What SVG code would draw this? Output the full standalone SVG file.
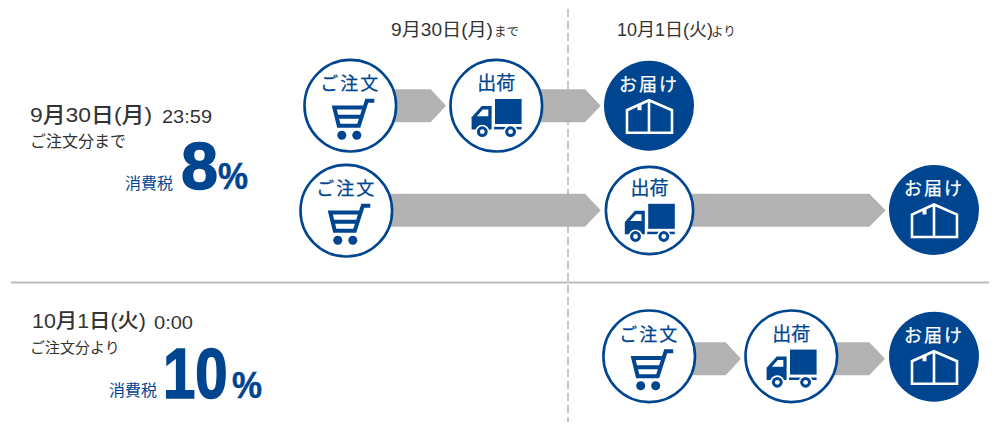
<svg xmlns="http://www.w3.org/2000/svg" xmlns:xlink="http://www.w3.org/1999/xlink" width="1000" height="424" viewBox="0 0 1000 424">
<style>
text{font-family:"Liberation Sans","Noto Sans CJK JP",sans-serif}
.d{fill:#333;font-size:18px}
.t{fill:#333;font-size:18px;font-weight:400}
.s{fill:#333;font-size:16px;font-family:"Noto Sans CJK JP",sans-serif;font-weight:400}
.tax{fill:#00458f;font-size:16px;font-family:"Noto Sans CJK JP",sans-serif;font-weight:400}
.big{fill:#00458f;font-weight:700;stroke:#00458f}
.lab{font-family:"Noto Sans CJK JP",sans-serif;font-size:18px;font-weight:400;text-anchor:middle;fill:#00458f;stroke:#00458f;stroke-width:.25}
.lw{fill:#fff;stroke:#fff}
.w{fill:#fff}
.ring{fill:#fff;stroke:#00458f;stroke-width:2.6}
.solid{fill:#00458f}
.arrow{fill:#b2b2b2}
.ci{fill:none;stroke:#00458f;stroke-width:4}
.bl{fill:#00458f}
.ho{fill:none;stroke:#fff;stroke-width:2.6}
</style>
<defs>
<g id="cart">
<path class="ci" d="M24 -5H16.5L8.5 20H-11.5L-16 1.7H13.5M-14 11H10.5"/>
<circle class="bl" cx="-8.5" cy="29.5" r="4.5"/><circle class="bl" cx="6.5" cy="29.5" r="4.5"/>
</g>
<g id="truck">
<rect class="bl" x="-1.3" y="-6.7" width="26.6" height="25"/>
<path class="bl" d="M-4.7 .3H-14.5L-24.7 11.5V23.7H-4.7Z"/>
<path class="bl" d="M-2.3 21.2H25.3V23.7H-2.3Z"/>
<path class="w" d="M-8 3.8H-13.5L-19.5 10.5H-8Z"/>
<circle class="w" cx="-14" cy="26" r="7"/><circle class="bl" cx="-14" cy="26" r="5.4"/><circle class="w" cx="-14" cy="26" r="2.4"/>
<circle class="w" cx="14.3" cy="26" r="7"/><circle class="bl" cx="14.3" cy="26" r="5.4"/><circle class="w" cx="14.3" cy="26" r="2.4"/>
</g>
<g id="house">
<path class="ho" d="M-22 27V4.5L0 -5.5L23 4.5V27ZM0 -5.5V27"/>
<path class="w" d="M-11.5 -.5L-7.5 -2.2V4.5H-11.5Z"/>
</g>
</defs>

<g id="dividers">
<path d="M568 9V422" stroke="#bbb" stroke-width="1.6" stroke-dasharray="8 4" fill="none"/>
<path d="M11 282.5H989" stroke="#bbb" stroke-width="2" fill="none"/>
</g>

<g id="connectors">
<path class="arrow" d="M394 89.3H430.7L446 105.8L430.7 122.3H394Z"/>
<path class="arrow" d="M540 89.3H585L600.7 105.8L585 122.3H540Z"/>
<path class="arrow" d="M390 193.7H585L600.7 210.2L585 226.7H390Z"/>
<path class="arrow" d="M690 193.7H869.3L885.7 210.2L869.3 226.7H690Z"/>
<path class="arrow" d="M693 342.3H725.7L741 358.8L725.7 375.3H693Z"/>
<path class="arrow" d="M835 342.3H869.3L885 358.8L869.3 375.3H835Z"/>
</g>

<g id="header-before"><text class="d" x="391" y="36" textLength="102" lengthAdjust="spacingAndGlyphs">9月30日(月)</text><text class="s" x="494" y="36" style="font-size:12.5px">まで</text></g>
<g id="header-after"><text class="d" x="617" y="36" textLength="96" lengthAdjust="spacingAndGlyphs">10月1日(火)</text><text class="s" x="711" y="36" style="font-size:12.5px">より</text></g>

<g id="info-8">
<text class="d" x="30" y="122" style="font-size:21px;font-weight:500" textLength="122" lengthAdjust="spacingAndGlyphs">9月30日(月)</text>
<text class="t" x="162" y="123" textLength="50" lengthAdjust="spacingAndGlyphs">23:59</text>
<text class="s" x="30" y="147">ご注文分まで</text>
<text class="tax" x="125" y="189">消費税</text>
<text class="big" x="181" y="189" style="font-size:67px;stroke-width:1.4" textLength="37" lengthAdjust="spacingAndGlyphs">8</text>
<text class="big" x="218" y="189" style="font-size:37px;stroke-width:.5" textLength="30" lengthAdjust="spacingAndGlyphs">%</text>
</g>
<g id="info-10">
<text class="d" x="32" y="328" style="font-size:20px;font-weight:500" textLength="114" lengthAdjust="spacingAndGlyphs">10月1日(火)</text>
<text class="t" x="154" y="329" textLength="39" lengthAdjust="spacingAndGlyphs">0:00</text>
<text class="s" x="30" y="353" style="font-size:15px">ご注文分より</text>
<text class="tax" x="109" y="396">消費税</text>
<text class="big" transform="translate(163 398) scale(.83 1)" style="font-size:70px;stroke-width:1.6">10</text>
<text class="big" x="232" y="398" style="font-size:37px;stroke-width:.5" textLength="30" lengthAdjust="spacingAndGlyphs">%</text>
</g>

<g id="order-1" transform="translate(350.3 105.7)"><circle class="ring" r="45.8"/><text class="lab" y="-15.5" letter-spacing="2">ご注文</text><use xlink:href="#cart"/></g>
<g id="ship-1" transform="translate(496.3 105.7)"><circle class="ring" r="45.8"/><text class="lab" y="-15.5" style="font-size:19px" letter-spacing="0">出荷</text><use xlink:href="#truck"/></g>
<g id="deliver-1" transform="translate(649 105.7)"><circle class="solid" r="45"/><text class="lab lw" y="-15" letter-spacing="2" style="fill:#fff;stroke:#fff">お届け</text><use xlink:href="#house"/></g>

<g id="order-2" transform="translate(346.3 210.7)"><circle class="ring" r="45.8"/><text class="lab" y="-15.5" letter-spacing="2">ご注文</text><use xlink:href="#cart"/></g>
<g id="ship-2" transform="translate(649.5 210.5)"><circle class="ring" r="43.6"/><text class="lab" y="-15.5" style="font-size:19px" letter-spacing="0">出荷</text><use xlink:href="#truck"/></g>
<g id="deliver-2" transform="translate(934 210)"><circle class="solid" r="45"/><text class="lab lw" y="-15" letter-spacing="2" style="fill:#fff;stroke:#fff">お届け</text><use xlink:href="#house"/></g>

<g id="order-3" transform="translate(649.2 356.3)"><circle class="ring" r="45.8"/><text class="lab" y="-15.5" letter-spacing="2">ご注文</text><use xlink:href="#cart"/></g>
<g id="ship-3" transform="translate(791.3 356.3)"><circle class="ring" r="45.8"/><text class="lab" y="-15.5" style="font-size:19px" letter-spacing="0">出荷</text><use xlink:href="#truck"/></g>
<g id="deliver-3" transform="translate(934 356.7)"><circle class="solid" r="45"/><text class="lab lw" y="-15" letter-spacing="2" style="fill:#fff;stroke:#fff">お届け</text><use xlink:href="#house"/></g>
</svg>
